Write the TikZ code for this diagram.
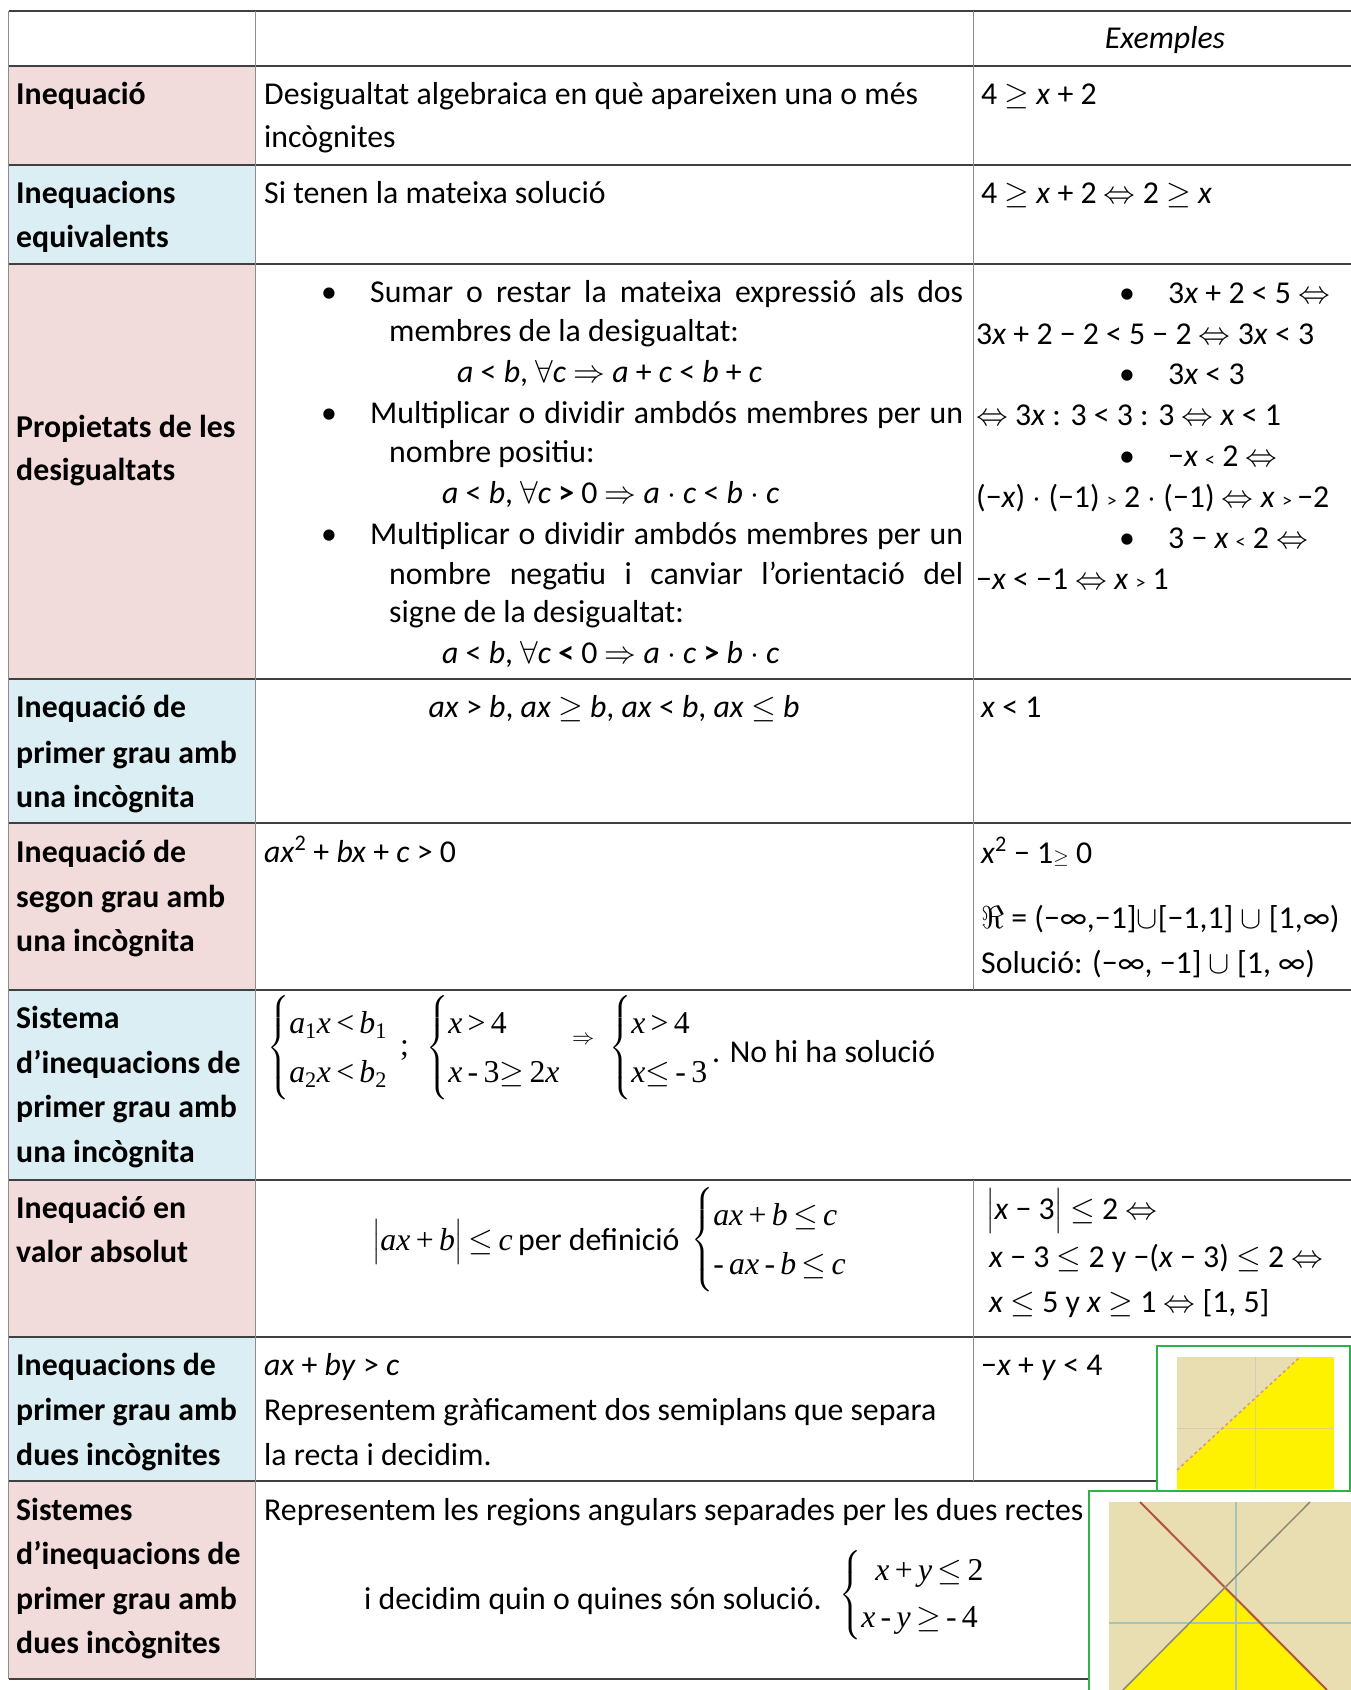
\RequirePackage{fix-cm}
\documentclass[tikz,border=0pt]{standalone}
\usepackage{amsmath}
\usepackage{fontspec}
\setmainfont{Carlito}
\newfontfamily\tnr{Liberation Serif}
\usepackage{tikz}
\usetikzlibrary{positioning}
\definecolor{rosa}{HTML}{F2DBDB}
\definecolor{blau}{HTML}{DAEEF3}
\definecolor{vora}{HTML}{404040}
\definecolor{vorab}{HTML}{8C8C8C}
\definecolor{marc}{HTML}{2DB34A}
\definecolor{sorra}{HTML}{E9DDB2}
\definecolor{groc}{HTML}{FFF200}
\definecolor{recta}{HTML}{B4553F}
\definecolor{rectab}{HTML}{8C8C70}
\definecolor{eix}{HTML}{A3C4BC}
\newcommand{\mida}{\fontsize{31.8}{42}\selectfont}
\newcommand{\ti}[1]{\text{\tnr\itshape #1}}
\newcommand{\tu}[1]{\text{\tnr #1}}
\newcommand{\sm}[1]{{\fontsize{20}{20}\selectfont #1}}
\newcommand{\mn}{−}
\tikzset{
  cel/.style={anchor=base west,inner sep=0pt},
  tit/.style={anchor=base west,inner sep=0pt,font={\mida\bfseries}},
  sist/.style={anchor=west,inner sep=0pt},
  hlin/.style={vora,line width=1.6pt},
  vlin/.style={vorab,line width=1.4pt},
}

\begin{document}
\begin{tikzpicture}[x=1pt,y=-1pt,font=\mida]
\useasboundingbox (0,0) rectangle (1351,1690);
\fill[rosa] (8.6,66) rectangle (255.5,165);
\fill[blau] (8.6,165) rectangle (255.5,264);
\fill[rosa] (8.6,264) rectangle (255.5,679);
\fill[blau] (8.6,679) rectangle (255.5,823);
\fill[rosa] (8.6,823) rectangle (255.5,990);
\fill[blau] (8.6,990) rectangle (255.5,1180);
\fill[rosa] (8.6,1180) rectangle (255.5,1337);
\fill[blau] (8.6,1337) rectangle (255.5,1481);
\fill[rosa] (8.6,1481) rectangle (255.5,1679);
\foreach \y in {11,66,165,264,679,823,990,1180,1337,1481,1679}
  \draw[hlin] (8.6,\y) -- (1351,\y);
\draw[vlin] (8.6,11) -- (8.6,1679);
\draw[vlin] (255.5,11) -- (255.5,1679);
\draw[vlin] (973.6,11) -- (973.6,990);
\draw[vlin] (973.6,1180) -- (973.6,1481);

\node[anchor=base] (hex) at (1165,48) {\itshape Exemples};

\node[tit] (t1) at (16,104) {Inequació};
\node[cel] (d1) at (264,104) {Desigualtat algebraica en què apareixen una o més};
\node[cel] (d1b) at (264,147) {incògnites};
\node[cel] (e1) at (981,104) {4 $\geq$ \textit{x} + 2};

\node[tit] (t2) at (16,203) {Inequacions};
\node[tit] (t2b) at (16,247) {equivalents};
\node[cel] (d2) at (264,203) {Si tenen la mateixa solució};
\node[cel] (e2) at (981,203) {4 $\geq$ \textit{x} + 2 $\Leftrightarrow$ 2 $\geq$ \textit{x}};

\node[tit] (t3) at (16,437) {Propietats de les};
\node[tit] (t3b) at (16,480) {desigualtats};
\node[anchor=base] (b1) at (329,302) {\textbullet};
\node[cel] (p1) at (370,302) {\makebox[593pt][s]{Sumar o restar la mateixa expressió als dos}};
\node[cel] (p1b) at (389,341) {membres de la desigualtat:};
\node[cel] (p1c) at (457,382) {\textit{a} < \textit{b}, $\forall$\textit{c} $\Rightarrow$ \textit{a} + \textit{c} < \textit{b} + \textit{c}};
\node[anchor=base] (b2) at (329,423) {\textbullet};
\node[cel] (p2) at (370,423) {\makebox[593pt][s]{Multiplicar o dividir ambdós membres per un}};
\node[cel] (p2b) at (389,462) {nombre positiu:};
\node[cel] (p2c) at (442,503) {\textit{a} < \textit{b}, $\forall$\textit{c} \textbf{>} 0 $\Rightarrow$ \textit{a} $\cdot$ \textit{c} < \textit{b} $\cdot$ \textit{c}};
\node[anchor=base] (b3) at (329,544) {\textbullet};
\node[cel] (p3) at (370,544) {\makebox[593pt][s]{Multiplicar o dividir ambdós membres per un}};
\node[cel] (p3b) at (389,584) {\makebox[574pt][s]{nombre negatiu i canviar l’orientació del}};
\node[cel] (p3c) at (389,622) {signe de la desigualtat:};
\node[cel] (p3d) at (442,663) {\textit{a} < \textit{b}, $\forall$\textit{c} \textbf{<} 0 $\Rightarrow$ \textit{a} $\cdot$ \textit{c} \textbf{>} \textit{b} $\cdot$ \textit{c}};

\node[anchor=base] (eb1) at (1127,303) {\textbullet};
\node[cel] (ep1) at (1168,303) {3\textit{x} + 2 < 5 $\Leftrightarrow$};
\node[cel] (ep1b) at (976,344) {3\textit{x} + 2 \mn{} 2 < 5 \mn{} 2 $\Leftrightarrow$ 3\textit{x} < 3};
\node[anchor=base] (eb2) at (1127,384) {\textbullet};
\node[cel] (ep2) at (1168,384) {3\textit{x} < 3};
\node[cel] (ep2b) at (976,425) {$\Leftrightarrow$ 3\textit{x} : 3 < 3 : 3 $\Leftrightarrow$ \textit{x} < 1};
\node[anchor=base] (eb3) at (1127,466) {\textbullet};
\node[cel] (ep3) at (1168,466) {\mn\textit{x} \sm{<} 2 $\Leftrightarrow$};
\node[cel] (ep3b) at (976,507) {(\mn\textit{x}) $\cdot$ (\mn1) \sm{>} 2 $\cdot$ (\mn1) $\Leftrightarrow$ \textit{x} \sm{>}\,\mn2};
\node[anchor=base] (eb4) at (1127,548) {\textbullet};
\node[cel] (ep4) at (1168,548) {3 \mn{} \textit{x} \sm{<} 2 $\Leftrightarrow$};
\node[cel] (ep4b) at (976,589) {\mn\textit{x} < \mn1 $\Leftrightarrow$ \textit{x} \sm{>} 1};

\node[tit] (t4) at (16,717) {Inequació de};
\node[tit] (t4b) at (16,763) {primer grau amb};
\node[tit] (t4c) at (16,807) {una incògnita};
\node[anchor=base] (d4) at (614,717) {\textit{ax} > \textit{b}, \textit{ax} $\geq$ \textit{b}, \textit{ax} < \textit{b}, \textit{ax} $\leq$ \textit{b}};
\node[cel] (e4) at (981,717) {\textit{x} < 1};

\node[tit] (t5) at (16,862) {Inequació de};
\node[tit] (t5b) at (16,907) {segon grau amb};
\node[tit] (t5c) at (16,951) {una incògnita};
\node[cel] (d5) at (264,862) {\textit{ax}\textsuperscript{2} + \textit{bx} + \textit{c} > 0};
\node[cel] (e5) at (981,863) {\textit{x}\textsuperscript{2} \mn{} 1\sm{$\geq$} 0};
\node[cel] (e5b) at (981,928) {$\Re$ = (\mn∞,\mn1]$\cup$[\mn1,1] $\cup$ [1,∞)};
\node[cel] (e5c) at (981,973) {Solució: (\mn∞, \mn1] $\cup$ [1, ∞)};

\node[tit] (t6) at (16,1028) {Sistema};
\node[tit] (t6b) at (16,1073) {d’inequacions de};
\node[tit] (t6c) at (16,1117) {primer grau amb};
\node[tit] (t6d) at (16,1162) {una incògnita};
\node[sist] (s1) at (267,1048) {$\renewcommand{\arraystretch}{1.17}\left\{\begin{array}{@{}l@{}}\ti{a}_{\tu{1}}\ti{x}\,\tu{<}\,\ti{b}_{\tu{1}}\\ \ti{a}_{\tu{2}}\ti{x}\,\tu{<}\,\ti{b}_{\tu{2}}\end{array}\right.$};
\node[sist] (s1p) at (400,1050) {\tnr ;};
\node[sist] (s2) at (426,1048) {$\renewcommand{\arraystretch}{1.17}\left\{\begin{array}{@{}l@{}}\ti{x}\,\tu{>}\,\tu{4}\\ \ti{x}\,\tu{-}\,\tu{3}{\geq}\,\tu{2}\ti{x}\end{array}\right.$};
\node[sist] (s2a) at (572,1040) {$\scriptstyle\Rightarrow$};
\node[sist] (s3) at (609,1048) {$\renewcommand{\arraystretch}{1.17}\left\{\begin{array}{@{}l@{}}\ti{x}\,\tu{>}\,\tu{4}\\ \ti{x}{\leq}\,\tu{-}\,\tu{3}\end{array}\right.$};
\node[cel] (d6) at (712,1062) {. No hi ha solució};

\node[tit] (t7) at (16,1218) {Inequació en};
\node[tit] (t7b) at (16,1262) {valor absolut};
\node[cel] (a7) at (372,1250) {$\big|\ti{ax}\,\tu{+}\,\ti{b}\big|\,{\leq}\,\ti{c}$};
\node[base right=5pt of a7,inner sep=0pt] (a7b) {per definició};
\node[sist] (a7s) at (691,1240) {$\renewcommand{\arraystretch}{1.17}\left\{\begin{array}{@{}l@{}}\ti{ax}\,\tu{+}\,\ti{b}\,{\leq}\,\ti{c}\\ \tu{-}\,\ti{ax}\,\tu{-}\,\ti{b}\,{\leq}\,\ti{c}\end{array}\right.$};
\node[cel] (e7) at (986,1219) {$\big|$\textit{x} \mn{} 3$\big|$ $\leq$ 2 $\Leftrightarrow$};
\node[cel] (e7b) at (989,1267) {\textit{x} \mn{} 3 $\leq$ 2 y \mn(\textit{x} \mn{} 3) $\leq$ 2 $\Leftrightarrow$};
\node[cel] (e7c) at (989,1312) {\textit{x} $\leq$ 5 y \textit{x} $\geq$ 1 $\Leftrightarrow$ [1, 5]};

\node[tit] (t8) at (16,1375) {Inequacions de};
\node[tit] (t8b) at (16,1420) {primer grau amb};
\node[tit] (t8c) at (16,1465) {dues incògnites};
\node[cel] (d8) at (264,1375) {\textit{ax} + \textit{by} > \textit{c}};
\node[cel] (d8b) at (264,1420) {Representem gràficament dos semiplans que separa};
\node[cel] (d8c) at (264,1465) {la recta i decidim.};
\node[cel] (e8) at (981,1375) {\mn\textit{x} + \textit{y} < 4};

\node[tit] (t9) at (16,1520) {Sistemes};
\node[tit] (t9b) at (16,1564) {d’inequacions de};
\node[tit] (t9c) at (16,1609) {primer grau amb};
\node[tit] (t9d) at (16,1653) {dues incògnites};
\node[cel] (d9) at (264,1520) {Representem les regions angulars separades per les dues rectes};
\node[cel] (d9b) at (364,1609) {i decidim quin o quines són solució.};
\node[sist] (s9) at (839,1595) {$\renewcommand{\arraystretch}{1.12}\left\{\begin{array}{@{}l@{}}\;\,\ti{x}\,\tu{+}\,\ti{y}\,{\leq}\,\tu{2}\\ \ti{x}\,\tu{-}\,\ti{y}\,{\geq}\,\tu{-}\,\tu{4}\end{array}\right.$};

\draw[marc,line width=1.5pt,fill=white] (1157,1346) rectangle (1350,1493);
\fill[sorra] (1177,1357) rectangle (1334,1489);
\fill[groc] (1177,1470) -- (1300,1357) -- (1334,1357) -- (1334,1489) -- (1177,1489) -- cycle;
\draw[black!25,opacity=0.5,line width=1pt] (1255,1357) -- (1255,1489);
\draw[black!25,opacity=0.5,line width=1pt] (1177,1428) -- (1334,1428);
\draw[recta!60,dashed,line width=1.5pt] (1177,1470) -- (1300,1357);

\draw[marc,line width=1.5pt,fill=white] (1089,1491) rectangle (1352,1692);
\fill[sorra] (1109,1502) rectangle (1351,1690);
\fill[groc] (1225,1587) -- (1123,1690) -- (1327,1690) -- cycle;
\draw[eix,line width=1.5pt] (1236,1502) -- (1236,1690);
\draw[eix,line width=1.5pt] (1109,1623) -- (1351,1623);
\draw[recta,line width=2pt] (1140,1502) -- (1327,1690);
\draw[rectab,line width=1.5pt] (1310,1502) -- (1123,1690);
\end{tikzpicture}
\end{document}
